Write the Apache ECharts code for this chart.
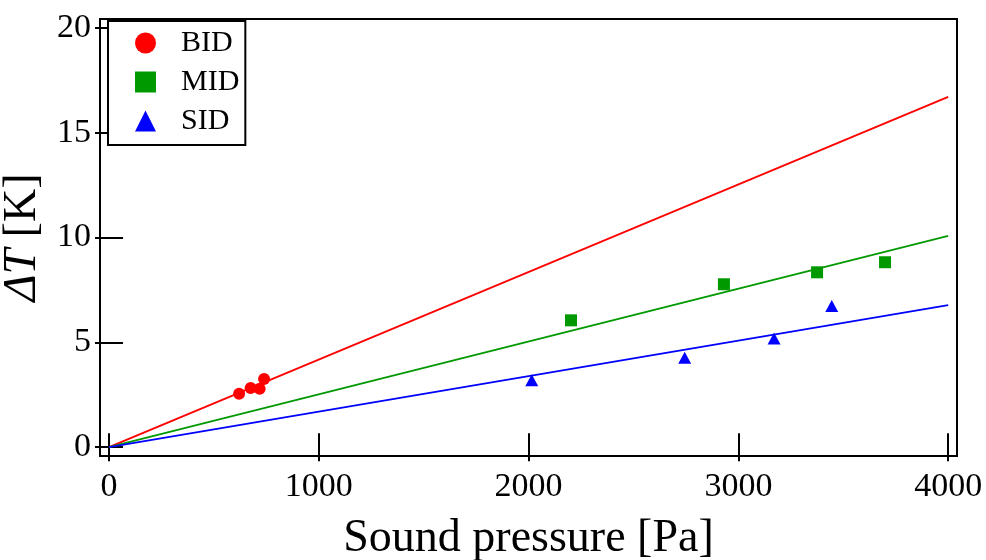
<!DOCTYPE html>
<html><head><meta charset="utf-8">
<script src="https://cdn.jsdelivr.net/npm/echarts@6/dist/echarts.min.js"></script>
<style>html,body{margin:0;padding:0;background:#fff}#c{width:986px;height:560px}</style>
</head><body><div id="c"></div>
<script>
// ---- data ----
const xTicks = [0, 1000, 2000, 3000, 4000];
const yTicks = [0, 5, 10, 15, 20];
const seriesNames = ['BID', 'MID', 'SID'];
const bidX = [620, 675, 718, 739];
const bidY = [2.55, 2.82, 2.79, 3.25];
const midX = [2202, 2931, 3375, 3699];
const midY = [6.05, 7.77, 8.34, 8.82];
const sidX = [2015, 2744, 3170, 3445];
const sidY = [3.19, 4.27, 5.18, 6.73];
const fitX = [0, 4000];
const bidFit = [0, 16.71];
const midFit = [0, 10.08];
const sidFit = [0, 6.78];

const zip = (a, b) => a.map((v, i) => [v, b[i]]);
const FONT = 'Liberation Serif';
const RED = '#ff0000', GREEN = '#009900', BLUE = '#0000ff';

const tickStyle = { show: true, inside: true, length: 14, lineStyle: { color: '#000', width: 2 } };
const plainFmt = v => String(v);

const chart = echarts.init(document.getElementById('c'), null, { renderer: 'canvas' });
chart.setOption({
  animation: false,
  backgroundColor: '#fff',
  grid: { left: 100, right: 29, top: 19, bottom: 104, outerBoundsMode: 'none', containLabel: false,
          show: true, borderColor: '#000', borderWidth: 2, backgroundColor: 'transparent' },
  legend: {
    data: seriesNames,
    orient: 'vertical',
    left: 108, top: 21,
    padding: [7, 6, 9, 27],
    itemGap: 9,
    itemWidth: 21, itemHeight: 21,
    backgroundColor: '#fff',
    borderColor: '#000', borderWidth: 2, borderRadius: 0,
    formatter: name => '{s|}{t|' + name + '}',
    textStyle: { fontFamily: FONT, fontSize: 30, color: '#000',
      rich: {
        s: { width: 20, height: 30 },
        t: { fontFamily: FONT, fontSize: 30, color: '#000' }
      } },
    z: 10
  },
  xAxis: [
    {
      type: 'value', position: 'bottom', min: -43, max: 4042,
      name: 'Sound pressure [Pa]', nameLocation: 'middle', nameGap: 60,
      nameTextStyle: { fontFamily: FONT, fontSize: 46, color: '#000' },
      axisLine: { show: false },
      axisTick: Object.assign({ customValues: xTicks }, tickStyle),
      axisLabel: { customValues: xTicks, formatter: plainFmt, fontFamily: FONT, fontSize: 34, color: '#000', margin: 14 },
      splitLine: { show: false }
    },
    {
      type: 'value', position: 'top', min: -43, max: 4042,
      axisLine: { show: false },
      axisTick: Object.assign({ customValues: xTicks }, tickStyle),
      axisLabel: { show: false },
      splitLine: { show: false }
    }
  ],
  yAxis: [
    {
      type: 'value', position: 'left', min: -0.42, max: 20.42,
      name: '{i|ΔT} [K]', nameLocation: 'middle', nameGap: 36, nameRotate: 90,
      nameTextStyle: { fontFamily: FONT, fontSize: 46, color: '#000',
        rich: { i: { fontFamily: FONT, fontSize: 46, fontStyle: 'italic', color: '#000' } } },
      axisLine: { show: false },
      axisTick: Object.assign({ customValues: yTicks }, tickStyle),
      axisLabel: { customValues: yTicks, formatter: plainFmt, fontFamily: FONT, fontSize: 34, color: '#000', margin: 9 },
      splitLine: { show: false }
    },
    {
      type: 'value', position: 'right', min: -0.42, max: 20.42,
      axisLine: { show: false },
      axisTick: Object.assign({ customValues: yTicks }, tickStyle),
      axisLabel: { show: false },
      splitLine: { show: false }
    }
  ],
  series: [
    { name: 'BID-fit', type: 'line', data: zip(fitX, bidFit), symbol: 'none', lineStyle: { color: RED, width: 1.8 }, z: 2 },
    { name: 'MID-fit', type: 'line', data: zip(fitX, midFit), symbol: 'none', lineStyle: { color: GREEN, width: 1.8 }, z: 2 },
    { name: 'SID-fit', type: 'line', data: zip(fitX, sidFit), symbol: 'none', lineStyle: { color: BLUE, width: 1.8 }, z: 2 },
    { name: 'BID', type: 'scatter', data: zip(bidX, bidY), symbol: 'circle', symbolSize: 12, itemStyle: { color: RED, opacity: 1 }, z: 3 },
    { name: 'MID', type: 'scatter', data: zip(midX, midY), symbol: 'rect', symbolSize: 12, itemStyle: { color: GREEN, opacity: 1 }, z: 3 },
    { name: 'SID', type: 'scatter', data: zip(sidX, sidY), symbol: 'triangle', symbolSize: [13, 12], itemStyle: { color: BLUE, opacity: 1 }, z: 3 }
  ]
});
</script></body></html>
